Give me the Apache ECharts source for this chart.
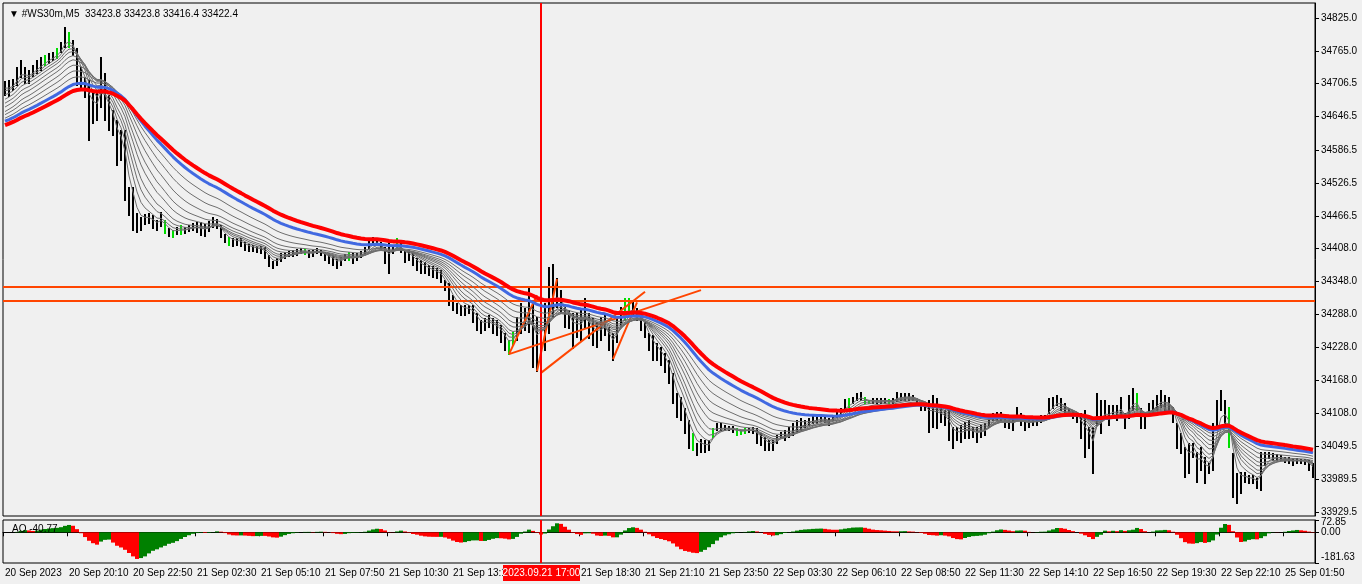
<!DOCTYPE html>
<html><head><meta charset="utf-8">
<script src="https://cdn.jsdelivr.net/npm/echarts@6/dist/echarts.min.js"></script>
<style>html,body{margin:0;padding:0;background:#f0f0f0;}#c{width:1362px;height:584px;}</style>
</head><body><div id="c"></div>
<script>
// ---- DATA (one value per 2 M5 bars) ----
const high = [34711,34713,34715,34737,34749,34737,34731,34740,34749,34755,
34758,34762,34764,34771,34782,34809,34800,34785,34771,34737,
34718,34713,34689,34689,34755,34726,34686,34659,34640,34622,
34622,34519,34519,34472,34465,34470,34472,34468,34459,34474,
34459,34445,34441,34446,34450,34446,34450,34454,34456,34456,
34452,34457,34465,34461,34450,34434,34428,34427,34427,34427,
34419,34416,34414,34412,34412,34410,34396,34385,34390,34399,
34401,34403,34405,34407,34408,34407,34405,34405,34408,34405,
34401,34399,34396,34388,34392,34398,34401,34399,34399,34403,
34410,34423,34428,34427,34419,34410,34419,34414,34427,34419,
34405,34405,34399,34390,34387,34383,34378,34376,34372,34369,
34350,34345,34323,34309,34305,34305,34305,34305,34291,34278,
34281,34287,34281,34278,34269,34254,34242,34256,34283,34309,
34300,34336,34309,34283,34301,34309,34374,34379,34354,34332,
34301,34296,34291,34291,34296,34318,34291,34281,34274,34283,
34287,34265,34254,34283,34301,34318,34318,34314,34300,34287,
34274,34254,34251,34236,34229,34218,34205,34182,34145,34138,
34118,34097,34073,34055,34062,34060,34060,34082,34091,34091,
34087,34086,34086,34082,34078,34082,34082,34084,34082,34073,
34066,34060,34060,34069,34075,34078,34084,34091,34097,34100,
34097,34100,34106,34104,34104,34104,34100,34106,34115,34118,
34135,34136,34138,34145,34147,34138,34133,34136,34136,34136,
34136,34135,34136,34147,34145,34145,34145,34142,34136,34127,
34124,34133,34142,34136,34120,34115,34115,34084,34084,34087,
34093,34097,34084,34084,34087,34091,34100,34109,34111,34111,
34102,34097,34102,34120,34109,34097,34097,34102,34102,34106,
34106,34136,34138,34142,34136,34127,34118,34115,34109,34109,
34115,34084,34084,34145,34133,34133,34124,34124,34124,34138,
34109,34142,34155,34145,34118,34111,34127,34133,34142,34151,
34142,34138,34120,34091,34073,34048,34055,34055,34039,34048,
34029,34019,34091,34133,34151,34133,34120,34037,34000,34002,
34002,33997,33997,33991,34039,34039,34039,34037,34035,34033,
34029,34029,34028,34028,34026,34026,34024,34019];
const low = [34686,34684,34695,34704,34718,34708,34708,34720,34726,34731,
34740,34744,34749,34753,34764,34773,34773,34758,34704,34695,
34682,34604,34635,34640,34664,34640,34622,34613,34559,34568,
34495,34468,34441,34437,34441,34452,34454,34445,34441,34448,
34436,34430,34428,34434,34434,34436,34439,34441,34437,34432,
34430,34439,34446,34445,34428,34419,34414,34412,34414,34412,
34405,34403,34403,34401,34399,34390,34376,34372,34378,34385,
34390,34394,34394,34396,34399,34398,34392,34394,34399,34396,
34387,34381,34378,34372,34378,34387,34387,34381,34387,34392,
34399,34408,34416,34414,34405,34381,34363,34399,34410,34401,
34383,34387,34378,34369,34363,34363,34359,34356,34354,34347,
34332,34305,34296,34291,34287,34287,34291,34274,34260,34254,
34260,34265,34254,34251,34238,34223,34216,34233,34242,34254,
34260,34256,34193,34185,34223,34223,34254,34283,34301,34291,
34265,34263,34227,34247,34242,34265,34245,34233,34229,34242,
34251,34223,34205,34238,34265,34278,34287,34285,34278,34260,
34247,34223,34205,34205,34196,34184,34164,34127,34102,34097,
34073,34046,34042,34033,34039,34039,34042,34066,34078,34078,
34078,34078,34075,34069,34071,34073,34075,34073,34055,34051,
34042,34042,34042,34055,34064,34060,34066,34069,34075,34078,
34084,34087,34091,34091,34095,34093,34087,34097,34102,34104,
34115,34120,34127,34133,34133,34127,34127,34127,34127,34127,
34127,34127,34127,34131,34133,34133,34133,34133,34127,34115,
34115,34075,34084,34082,34093,34087,34060,34046,34060,34057,
34064,34064,34066,34057,34066,34069,34084,34097,34097,34097,
34084,34082,34078,34097,34087,34078,34084,34087,34087,34093,
34097,34109,34118,34124,34115,34111,34106,34100,34093,34064,
34029,34046,34000,34087,34073,34106,34087,34106,34097,34106,
34082,34100,34115,34115,34082,34082,34106,34106,34115,34120,
34115,34115,34093,34046,34037,33993,34000,34029,33984,34006,
33982,34000,34006,34084,34115,34091,34048,33957,33946,33964,
33984,33982,33982,33973,33970,34015,34028,34024,34024,34024,
34020,34019,34015,34019,34019,34017,34006,33993];
const greenBars = [10,13,16,40,42,44,56,75,86,98,126,127,155,156,172,177,183,184,185,211,215,216,221,283,306];
const xTickLabels = ["20 Sep 2023","20 Sep 20:10","20 Sep 22:50","21 Sep 02:30","21 Sep 05:10","21 Sep 07:50",
"21 Sep 10:30","21 Sep 13:10","21 Sep 15:50","21 Sep 18:30","21 Sep 21:10","21 Sep 23:50","22 Sep 03:30",
"22 Sep 06:10","22 Sep 08:50","22 Sep 11:30","22 Sep 14:10","22 Sep 16:50","22 Sep 19:30","22 Sep 22:10","25 Sep 01:50"];
const yTickValues = [33929.5,33989.5,34049.5,34108.0,34168.0,34228.0,34288.0,34348.0,34408.0,34466.5,34526.5,34586.5,34646.5,34706.5,34765.0,34825.0];
const aoTickValues = [-181.63,0,72.85];
const maPeriods = [3,5,7,9,12,15,19,24,30,38,46];
const maSeeds = [34698,34691,34682,34673,34666,34659,34651,34646,34640,34635,34628];
const crossIndex = 134;
const crossLabel = '2023.09.21 17:00';
const hLevels = [34338,34313];
const trendLines = [
  [[126,34216],[174,34332]],
  [[134,34182],[160,34329]],
  [[126,34216],[133,34323]],
  [[133,34185],[138,34352]],
  [[152,34207],[158,34310]]
];
const titleText = '\u25BC #WS30m,M5  33423.8 33423.8 33416.4 33422.4';
const aoText = 'AO -40.77';
const mainRange = [33922.5, 34852.6];
const aoRange = [-181.63, 72.85];

// ---- derived ----
const categories = high.map((_, i) => String(i));
const med = high.map((h, i) => (h + low[i]) / 2);
function ema(src, period, seed) {
  const a = 2 / (period + 1); let e = seed;
  return src.map(v => { e = e + a * (v - e); return +e.toFixed(2); });
}
function sma(arr, n) {
  return arr.map((_, i) => { const s = Math.max(0, i - n + 1); let t = 0; for (let k = s; k <= i; k++) t += arr[k]; return t / (i - s + 1); });
}
const fast = sma(med, 3), slow = sma(med, 17);
const ao = fast.map((v, i) => +(v - slow[i]).toFixed(2));
const aoData = ao.map((v, i) => ({ value: v, itemStyle: { color: (i === 0 || v >= ao[i - 1]) ? '#008000' : '#ff0000' } }));
const barData = high.map((h, i) => [i, h, low[i], greenBars.includes(i) ? 1 : 0]);

const font = "'Liberation Sans', Arial, sans-serif";
const mas = maPeriods.map((p, k) => ema(med, p, maSeeds[k]));
const last = maPeriods.length - 1;
const maSeries = mas.map((d, k) => ({
  type: 'line', xAxisIndex: 0, yAxisIndex: 0, data: d, showSymbol: false, silent: true,
  lineStyle: { color: k === last ? '#ff0000' : (k === last - 1 ? '#4169e1' : '#6e6e6e'), width: k === last ? 4 : (k === last - 1 ? 3 : 1) },
  z: 3 + k
}));

const chart = echarts.init(document.getElementById('c'), null, { renderer: 'canvas' });
const every16 = (idx) => idx % 16 === 0;
const option = {
  animation: false,
  backgroundColor: '#f0f0f0',
  textStyle: { fontFamily: font },
  title: [
    { text: titleText, left: 4, top: 4, textStyle: { fontSize: 10, fontWeight: 'normal', color: '#000', fontFamily: font } },
    { text: aoText, left: 7, top: 519, textStyle: { fontSize: 10, fontWeight: 'normal', color: '#000', fontFamily: font } }
  ],
  grid: [
    { left: 3, right: 47, top: 3, height: 513, show: true, borderColor: '#000', borderWidth: 1, backgroundColor: 'transparent' },
    { left: 3, right: 47, top: 520, height: 43, show: true, borderColor: '#000', borderWidth: 1, backgroundColor: 'transparent' }
  ],
  xAxis: [
    { type: 'category', gridIndex: 0, data: categories, boundaryGap: true, axisLine: { show: false }, axisTick: { show: false }, axisLabel: { show: false }, splitLine: { show: false } },
    { type: 'category', gridIndex: 1, data: categories, boundaryGap: true,
      axisLine: { show: true, lineStyle: { color: '#000' } },
      axisTick: { show: true, interval: every16, length: 4, lineStyle: { color: '#000' } },
      axisLabel: { show: true, interval: every16, align: 'left', margin: 5, fontSize: 10, color: '#000', fontFamily: font,
        formatter: (v, idx) => xTickLabels[Math.round(Number(v) / 16)] || '' },
      splitLine: { show: false } }
  ],
  yAxis: [
    { type: 'value', gridIndex: 0, position: 'right', min: mainRange[0], max: mainRange[1], scale: true,
      axisLine: { show: true, lineStyle: { color: '#000' } },
      axisTick: { show: true, length: 4, customValues: yTickValues, lineStyle: { color: '#000' } },
      axisLabel: { show: true, customValues: yTickValues, margin: 6, fontSize: 10, color: '#000', fontFamily: font, formatter: v => Number(v).toFixed(1) },
      splitLine: { show: false } },
    { type: 'value', gridIndex: 1, position: 'right', min: aoRange[0], max: aoRange[1], scale: true,
      axisLine: { show: true, lineStyle: { color: '#000' } },
      axisTick: { show: true, length: 4, customValues: aoTickValues, lineStyle: { color: '#000' } },
      axisLabel: { show: true, customValues: aoTickValues, margin: 6, fontSize: 10, color: '#000', fontFamily: font,
        formatter: v => { const s = Number(v).toFixed(2); if (Math.abs(v - aoRange[0]) < 1e-6) return '{lo|' + s + '}'; if (Math.abs(v - aoRange[1]) < 1e-6) return '{hi|' + s + '}'; return s; },
        rich: { lo: { fontSize: 10, padding: [0, 0, 11, 0] }, hi: { fontSize: 10, padding: [4, 0, 0, 0] } } },
      splitLine: { show: false } }
  ],
  series: [
    { type: 'custom', xAxisIndex: 0, yAxisIndex: 0, data: barData, silent: true, z: 2,
      encode: { x: 0, y: [1, 2] },
      renderItem: (params, api) => {
        const i = api.value(0);
        const p1 = api.coord([i, api.value(1)]);
        const p2 = api.coord([i, api.value(2)]);
        const x = Math.round(p1[0]);
        return { type: 'line', shape: { x1: x, y1: Math.round(p1[1]), x2: x, y2: Math.round(p2[1]) + 1 },
          style: { stroke: api.value(3) ? '#00dd00' : '#000', lineWidth: 2 } };
      }
    },
    ...maSeries,
    { type: 'line', xAxisIndex: 0, yAxisIndex: 0, data: [], silent: true, z: 20,
      markLine: { silent: true, symbol: ['none', 'none'], label: { show: false }, animation: false,
        lineStyle: { color: '#ff4500', width: 2, type: 'solid' },
        data: [
          ...hLevels.map(v => ({ yAxis: v })),
          ...trendLines.map(t => [{ coord: t[0] }, { coord: t[1] }]),
          { xAxis: crossIndex, lineStyle: { color: '#ff0000', width: 2 } }
        ] } },
    { type: 'bar', xAxisIndex: 1, yAxisIndex: 1, data: aoData, barCategoryGap: '0%', silent: true, z: 2,
      markLine: { silent: true, symbol: ['none', 'none'], label: { show: false }, animation: false,
        lineStyle: { color: '#ff0000', width: 2, type: 'solid' }, data: [{ xAxis: crossIndex }] } }
  ]
};
chart.setOption(option);
const cx = chart.convertToPixel({ xAxisIndex: 1 }, crossIndex);
chart.setOption({ graphic: [
  { type: 'rect', z: 100, shape: { x: Math.round(cx) - 38, y: 565, width: 77, height: 16 }, style: { fill: '#ff0000' } },
  { type: 'text', z: 101, x: Math.round(cx) + 0.5, y: 573, style: { text: crossLabel, fill: '#fff', font: "10px 'Liberation Sans', Arial, sans-serif", align: 'center', verticalAlign: 'middle' } }
] });
</script></body></html>
